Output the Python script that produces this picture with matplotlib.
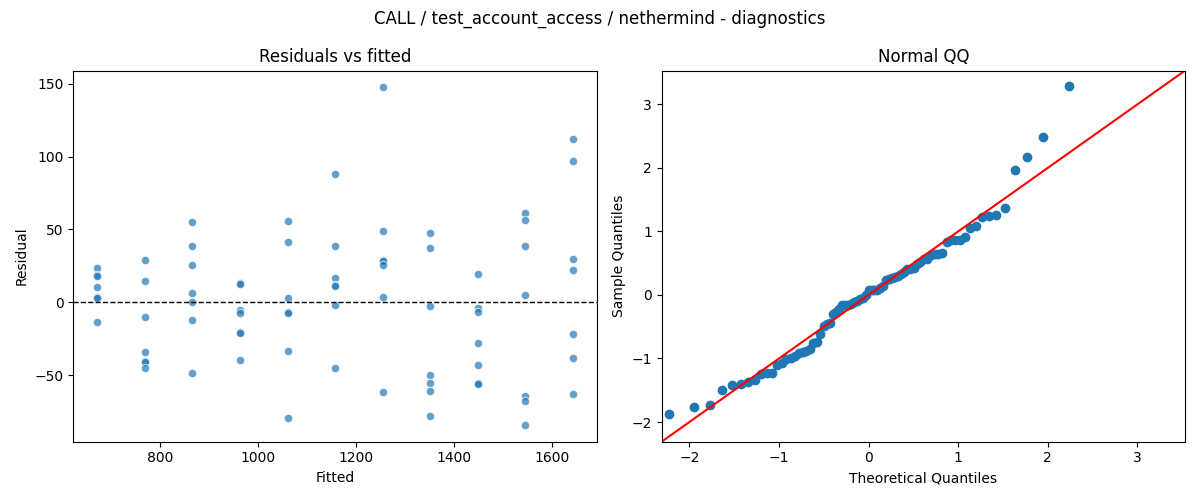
import matplotlib
matplotlib.use("Agg")
import matplotlib.pyplot as plt
import numpy as np
from statistics import NormalDist

title = "CALL / test_account_access / nethermind - diagnostics"

fitted_levels = [672, 770, 866, 964, 1062, 1158, 1256, 1352, 1450, 1546, 1643]
resid_g1 = [23.3, 18.5, 18.0, 10.3, 3.6, 3.2, -13.7]
resid_g2 = [29.0, 14.4, -10.0, -34.2, -40.2, -41.3, -45.2]
resid_g3 = [54.8, 38.6, 25.6, 6.4, 0.0, -12.3, -48.6]
resid_g4 = [13.0, 12.6, -5.3, -7.5, -20.1, -20.8, -39.7]
resid_g5 = [55.5, 41.1, 3.0, -7.0, -7.6, -33.6, -79.5]
resid_g6 = [88.4, 38.6, 16.4, 11.9, 11.4, -2.1, -45.0]
resid_g7 = [147.5, 48.6, 29.0, 28.4, 25.3, 3.4, -61.6]
resid_g8 = [47.3, 37.0, -2.7, -50.0, -55.5, -60.7, -78.1]
resid_g9 = [19.2, -4.1, -6.8, -28.1, -43.2, -55.2, -55.9]
resid_g10 = [61.2, 56.2, 38.6, 4.8, -64.2, -67.8, -84.2]
resid_g11 = [111.9, 97.3, 29.5, 21.9, -21.9, -38.4, -63.0]

groups = [resid_g1, resid_g2, resid_g3, resid_g4, resid_g5, resid_g6,
          resid_g7, resid_g8, resid_g9, resid_g10, resid_g11]

fitted = []
resid = []
for f, g in zip(fitted_levels, groups):
    fitted += [f] * len(g)
    resid += g
fitted = np.array(fitted, dtype=float)
resid = np.array(resid, dtype=float)

fig, (ax1, ax2) = plt.subplots(1, 2, figsize=(12, 5), dpi=100)

ax1.scatter(fitted, resid, s=36, color="C0", alpha=0.7, edgecolors="white", linewidths=0.75)
ax1.axhline(0, color="black", linestyle="--", linewidth=1)
ax1.set_title("Residuals vs fitted")
ax1.set_xlabel("Fitted")
ax1.set_ylabel("Residual")

# Normal QQ (statsmodels-style: fit=True, a=0 plotting positions)
n = len(resid)
sample = np.sort((resid - resid.mean()) / resid.std())
nd = NormalDist()
theo = np.array([nd.inv_cdf(i / (n + 1)) for i in range(1, n + 1)])
ax2.plot(theo, sample, marker="o", linestyle="none", markerfacecolor="C0", markeredgecolor="C0")
lo, hi = -2.31, 3.53
ax2.plot([lo, hi], [lo, hi], color="red")
ax2.set_xlim(lo, hi)
ax2.set_ylim(lo, hi)
ax2.set_title("Normal QQ")
ax2.set_xlabel("Theoretical Quantiles")
ax2.set_ylabel("Sample Quantiles")

fig.suptitle(title)
fig.tight_layout()
fig.savefig("out.png")
